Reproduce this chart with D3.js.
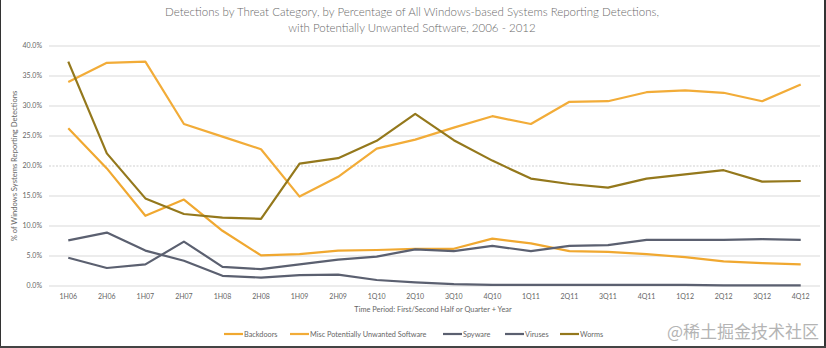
<!DOCTYPE html>
<html>
<head>
	<meta charset="utf-8">
	<title>Detections by Threat Category</title>
	<script src="https://d3js.org/d3.v7.min.js"></script>
	<style>
		body { margin: 0; background: #fff; }
		svg { display: block; font-family: Lato, "Open Sans", sans-serif; }
	</style>
</head>
<body>
	<svg id="chart" width="826" height="348"></svg>

	<script type="text/javascript">
		// periods on the x axis
		var periods = ["1H06", "2H06", "1H07", "2H07", "1H08", "2H08", "1H09", "2H09",
			"1Q10", "2Q10", "3Q10", "4Q10", "1Q11", "2Q11", "3Q11", "4Q11",
			"1Q12", "2Q12", "3Q12", "4Q12"]

		// series values, % of systems reporting detections
		var backdoors = [26.3, 19.6, 11.7, 14.4, 9.2, 5.1, 5.3, 5.9, 6.0, 6.2,
			6.2, 7.9, 7.1, 5.8, 5.7, 5.3, 4.8, 4.1, 3.8, 3.6]
		var miscPUS = [34.0, 37.2, 37.4, 27.0, 24.9, 22.8, 14.9, 18.2, 22.9, 24.4,
			26.4, 28.3, 27.0, 30.7, 30.8, 32.3, 32.6, 32.2, 30.8, 33.6]
		var spyware = [7.6, 8.9, 5.9, 4.2, 1.7, 1.4, 1.8, 1.9, 1.0, 0.6,
			0.3, 0.2, 0.2, 0.2, 0.2, 0.2, 0.2, 0.1, 0.1, 0.1]
		var viruses = [4.7, 3.0, 3.6, 7.4, 3.2, 2.8, 3.6, 4.4, 4.9, 6.1,
			5.8, 6.7, 5.8, 6.7, 6.8, 7.7, 7.7, 7.7, 7.8, 7.7]
		var worms = [37.4, 22.1, 14.6, 12.0, 11.4, 11.2, 20.4, 21.3, 24.2, 28.7,
			24.3, 20.9, 17.9, 17.0, 16.4, 17.9, 18.6, 19.3, 17.4, 17.5]

		var yTicks = [0, 5, 10, 15, 20, 25, 30, 35, 40]

		var series = [
			{name: "Backdoors", values: backdoors, color: "#f0a830"},
			{name: "Misc Potentially Unwanted Software", values: miscPUS, color: "#f2ac38"},
			{name: "Spyware", values: spyware, color: "#5b6070"},
			{name: "Viruses", values: viruses, color: "#5b6070"},
			{name: "Worms", values: worms, color: "#94781c"}
		]

		var svg = d3.select("#chart")
		var textColor = "#666"

		var x = d3.scaleBand().domain(periods).range([49, 820])
		var y = d3.scaleLinear().domain([0, 40]).range([286, 46])
		var cx = d => x(d) + x.bandwidth() / 2

		// gridlines + y labels
		svg.append("g")
		  .selectAll("line")
		  .data(yTicks)
		  .enter()
		  .append("line")
			.attr("x1", 49)
			.attr("x2", 820)
			.attr("y1", d => y(d))
			.attr("y2", d => y(d))
			.attr("stroke", d => d == 20 ? "#cfcfcf" : "#d9d9d9")
			.attr("stroke-dasharray", d => d == 20 ? "2,1.5" : null)
			.attr("stroke-width", 1)

		svg.append("g")
		  .selectAll("text")
		  .data(yTicks)
		  .enter()
		  .append("text")
			.attr("x", 42)
			.attr("y", d => y(d))
			.attr("dy", "0.35em")
			.attr("text-anchor", "end")
			.attr("font-size", 7)
			.attr("fill", textColor)
			.text(d => d.toFixed(1) + "%")

		// x labels
		svg.append("g")
		  .selectAll("text")
		  .data(periods)
		  .enter()
		  .append("text")
			.attr("x", cx)
			.attr("y", 297)
			.attr("dy", "0.35em")
			.attr("text-anchor", "middle")
			.attr("font-size", 7)
			.attr("fill", textColor)
			.text(d => d)

		// lines
		var line = d3.line()
			.x((d, i) => cx(periods[i]))
			.y(d => y(d))

		svg.append("g")
		  .selectAll("path")
		  .data(series)
		  .enter()
		  .append("path")
			.attr("d", d => line(d.values))
			.attr("fill", "none")
			.attr("stroke", d => d.color)
			.attr("stroke-width", 2.2)
			.attr("stroke-linejoin", "round")

		// titles
		svg.append("text")
			.attr("x", 412).attr("y", 16)
			.attr("text-anchor", "middle")
			.attr("font-size", 11.5)
			.attr("font-weight", 300)
			.attr("fill", "#6a6a6a")
			.text("Detections by Threat Category, by Percentage of All Windows-based Systems Reporting Detections,")
		svg.append("text")
			.attr("x", 412).attr("y", 32)
			.attr("text-anchor", "middle")
			.attr("font-size", 11.5)
			.attr("font-weight", 300)
			.attr("fill", "#6a6a6a")
			.text("with Potentially Unwanted Software, 2006 - 2012")

		svg.append("text")
			.attr("x", 433).attr("y", 309)
			.attr("dy", "0.35em")
			.attr("text-anchor", "middle")
			.attr("font-size", 7.4)
			.attr("fill", textColor)
			.text("Time Period: First/Second Half or Quarter + Year")

		svg.append("text")
			.attr("transform", "translate(14,166) rotate(-90)")
			.attr("dy", "0.35em")
			.attr("text-anchor", "middle")
			.attr("font-size", 7.6)
			.attr("fill", textColor)
			.text("% of Windows Systems Reporting Detections")

		// legend
		var legendX = [224, 290, 443, 505, 560]
		var legend = svg.append("g")
		  .selectAll("g")
		  .data(series)
		  .enter()
		  .append("g")
			.attr("transform", (d, i) => "translate(" + legendX[i] + ",334)")
		legend.append("line")
			.attr("x1", 0).attr("x2", 19)
			.attr("stroke", d => d.color)
			.attr("stroke-width", 2.2)
		legend.append("text")
			.attr("x", 20)
			.attr("dy", "0.35em")
			.attr("font-size", 7.3)
			.attr("fill", textColor)
			.text(d => d.name)

		// watermark
		svg.append("text")
			.attr("x", 819).attr("y", 338)
			.attr("text-anchor", "end")
			.attr("font-size", 17)
			.attr("font-family", "Noto Sans CJK SC")
			.attr("fill", "#b4b4b4")
			.text("@稀土掘金技术社区")

		// frame edges
		svg.append("rect").attr("x", 0).attr("y", 0).attr("width", 1).attr("height", 348).attr("fill", "#333")
		svg.append("rect").attr("x", 824).attr("y", 0).attr("width", 2).attr("height", 348).attr("fill", "#333")
		svg.append("rect").attr("x", 0).attr("y", 346).attr("width", 826).attr("height", 2).attr("fill", "#444")
	</script>
</body>
</html>
